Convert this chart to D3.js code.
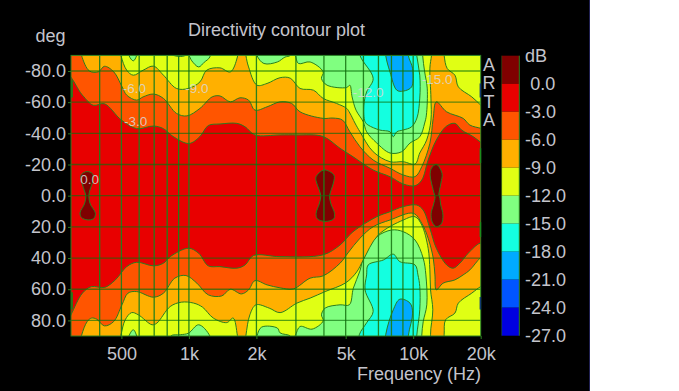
<!DOCTYPE html>
<html><head><meta charset="utf-8">
<script src="https://cdn.jsdelivr.net/npm/d3@7/dist/d3.min.js"></script>
<style>html,body{margin:0;padding:0;background:#fff;overflow:hidden}svg{display:block}
text{font-family:"Liberation Sans",Arial,sans-serif;fill:#c4c4cc}</style></head><body>
<script>
// frequency in Hz, angle in degrees
const contourM18Top=[[285,-110],[7350,-110],[7540,-90],[7880,-79.4],[8450,-67.7],[9030,-67.1],[9840,-69.8],[9940,-81.6],[9510,-90],[9400,-110],[21000,-110]];
const contourM18Bot=[[21000,110],[9400,110],[9510,90],[9940,75.3],[9680,68.9],[8720,66.4],[8150,73.2],[7540,89.2],[7350,110],[285,110]];
const contourM15Top=[[285,-110],[5700,-100],[5790,-90],[6630,-75.2],[6200,-66.6],[6030,-58.1],[6100,-47.4],[6300,-45.3],[7100,-42.1],[7880,-41],[8150,-37.8],[8450,-41],[9000,-42.1],[9840,-44.2],[10390,-49.8],[10700,-62.6],[10700,-77.3],[10370,-90],[10300,-100],[21000,-100]];
const contourM15Bot=[[21000,110],[10300,100],[10370,90],[10700,73.2],[10700,58.3],[10500,50.8],[10190,44.4],[8720,42.3],[8150,37.5],[7370,41.2],[6300,44.4],[6200,50.8],[6100,60.4],[6630,74.3],[6200,81.5],[5750,89.2],[5650,100],[285,110]];
const contourM12Top=[[285,-110],[520,-105],[540,-90],[565,-86.5],[585,-90],[600,-100],[800,-100],[830,-91],[920,-89.3],[995,-90],[1030,-86.5],[1105,-82.6],[1170,-85.6],[1240,-89],[1270,-100],[1950,-100],[2010,-90],[2160,-84.8],[2480,-85.8],[2680,-88.9],[2830,-90],[2870,-95],[2980,-90],[3080,-84.8],[3470,-85.8],[3970,-79.4],[3900,-75.2],[4130,-70.9],[5050,-69.4],[5220,-70.9],[5340,-63.4],[5560,-54.9],[5990,-47.4],[6200,-41],[6880,-33.8],[7880,-27.4],[8880,-28.2],[9680,-33.8],[10700,-37.8],[11250,-46.6],[11450,-51.7],[11550,-69],[11250,-79.4],[11020,-90],[10950,-100],[21000,-100]];
const contourM12Bot=[[21000,100],[10900,100],[10920,89.7],[11080,80.9],[11500,70],[11390,50.8],[11080,40.1],[10190,28.4],[9030,23.1],[8020,22],[6880,26.3],[6100,35.9],[5790,48.2],[5410,59.3],[5190,70],[4720,70],[4050,72.1],[3900,76.4],[3970,80.3],[3540,85.6],[3130,83.9],[2980,89.7],[2870,93],[2830,90],[2550,88],[2480,84.9],[2110,84.3],[2010,90],[1950,100],[1270,100],[1240,90],[1105,82.8],[995,88.2],[915,89.2],[830,90],[800,100],[600,100],[585,90],[565,86],[540,90],[520,100],[285,100]];
const contourM9Top=[[285,-110],[470,-105],[497,-90],[528,-80.5],[565,-77.3],[625,-80.5],[695,-83.1],[770,-77.3],[880,-68.8],[995,-68.8],[1120,-73],[1200,-80.5],[1375,-82],[1530,-79.4],[1645,-89],[1675,-100],[1760,-100],[1795,-90],[1845,-82.6],[2010,-70.9],[2230,-72],[2550,-75.7],[2830,-75.4],[3130,-68.8],[3590,-67.7],[3970,-62.4],[4550,-59.2],[5050,-56],[5220,-53],[5500,-46.6],[5790,-41],[6630,-28.2],[7880,-21.8],[9030,-21.8],[10190,-20.3],[10700,-27.4],[11480,-35.7],[12000,-48.5],[12000,-62.6],[11870,-81.8],[12070,-90],[12250,-100],[13570,-100],[13740,-90],[14180,-81.6],[15350,-77.3],[15900,-69.8],[18250,-63.4],[20000,-58.1],[21000,-55]];
const contourM9Bot=[[21000,57],[20000,58.3],[18250,62.5],[15900,68.9],[15350,75.3],[13950,79.6],[13740,89.2],[13570,100],[12250,100],[11950,89.2],[12230,73.2],[11950,60.4],[11870,47.6],[11660,33.7],[10920,18.8],[10190,13.5],[9030,15.6],[6990,25.2],[5990,41.2],[5600,48.9],[5000,55.9],[4050,61.5],[3470,65.7],[3030,68.9],[2550,75],[2280,72.1],[1990,70],[1870,76.4],[1795,89.7],[1760,100],[1675,100],[1645,89.7],[1575,78.5],[1475,81.4],[1285,78.5],[1150,71.5],[1050,68.9],[925,68.3],[825,71.1],[720,81.7],[685,82.8],[595,76.4],[555,75],[520,79.6],[497,89.7],[470,105],[285,110]];
const contourM6Top=[[285,-100],[325,-98],[332,-90],[360,-80],[395,-79.5],[420,-83],[462,-79.5],[503,-70],[528,-64.5],[585,-61.3],[625,-63.4],[695,-65.2],[770,-62.4],[880,-52.8],[980,-51.2],[1120,-56],[1270,-63.4],[1375,-64],[1530,-60.2],[1690,-62.8],[1845,-61.3],[1970,-54.9],[2230,-57],[2550,-60.2],[2870,-59.2],[3130,-53.8],[3970,-49.6],[4390,-49.8],[4840,-48.5],[5220,-41],[5790,-31.4],[6630,-22.9],[7880,-17.6],[9030,-13.3],[10190,-12.2],[10920,-18.6],[11870,-33.6],[12280,-49.6],[12680,-60.2],[14100,-53.8],[16700,-49.6],[17900,-45.3],[20000,-43.2],[21000,-42]];
const contourM6Bot=[[21000,38],[19900,40],[17900,47.6],[16700,50.8],[15350,54],[13600,56.1],[12680,60.4],[12500,50.8],[12280,39.9],[11660,27.3],[10920,17.7],[10020,11.3],[7880,15.6],[6630,19.9],[5790,27.3],[5120,36.7],[4720,43.3],[3970,51.4],[3470,52.9],[2920,59.8],[2550,59.1],[2230,57.2],[1970,54.5],[1845,60.4],[1715,63],[1530,60],[1400,64.3],[1220,63.6],[1085,56.1],[970,51.2],[865,52.9],[770,62.5],[695,65.1],[585,61.5],[535,62.5],[503,70],[462,80.7],[420,83.5],[388,79.2],[368,78.5],[352,80.7],[332,89.7],[325,98],[285,100]];
const contourM3Top=[[285,-78],[335,-64.5],[375,-58],[420,-59],[500,-48.5],[585,-43],[695,-44.7],[770,-43],[850,-38],[1000,-33.5],[1120,-38],[1220,-45],[1375,-46],[1635,-46.4],[1780,-44.2],[1970,-39],[2550,-39],[3030,-39],[3960,-38],[4720,-30.4],[5390,-25],[6630,-16.5],[7880,-12.2],[9030,-7.5],[10190,-6.4],[10920,-10],[11660,-22.9],[12680,-35.7],[14100,-44.7],[15350,-46.4],[16450,-42.1],[18560,-37.8],[19850,-34.6],[21000,-32]];
const contourM3Bot=[[21000,31],[19850,30.5],[17600,36.9],[16150,43.3],[15070,46.5],[14100,44.4],[12680,33.7],[11870,20.9],[11080,9.2],[10370,6],[9030,7],[7880,10.3],[6880,13.5],[5390,23.1],[4720,31.6],[3970,37.9],[2550,39.1],[1940,38.4],[1780,44.4],[1635,46.5],[1375,45.5],[1220,45],[1105,36.9],[995,33.7],[825,39.1],[770,43.3],[695,45],[585,42.7],[528,45.5],[470,54],[420,58.9],[368,58.3],[335,62.5],[298,76.4],[285,82]];
const peakLow=[[351,-15.5],[372,-14],[373,-9.4],[362,-3.7],[358,0.2],[363,5.3],[383,11.3],[375,14.8],[352,15.5],[332,14],[327,11],[342,5.3],[347,0.2],[341,-3.7],[331,-10],[331,-13.5]];
const peakMid=[[4000,-16.5],[4430,-13.3],[4420,-8.8],[4310,-3.7],[4240,0.2],[4300,5.3],[4460,11.3],[4420,14.9],[4050,16.5],[3740,14.9],[3690,11.3],[3810,5.3],[3870,0.2],[3810,-3.7],[3700,-8.8],[3690,-12.2]];
const peakHigh=[[12680,-20.1],[13450,-14.3],[13300,-8.1],[13020,-0.4],[13120,0.8],[13280,6],[13580,12.4],[13350,18.1],[12680,19.9],[12150,16.8],[12020,11.3],[12300,6],[12520,0.8],[12450,-0.4],[12070,-8.1],[11900,-13.3],[12070,-17.7]];
const leftEdgeGreenDeg=[[-74,-63],[62,73]];
const rightEdgeBlueDeg=[[-72,-63],[65,73]];
const rightEdgeGreenDeg=[[-30.5,-21],[17,26.5]];

const bandColors=["#7f0000","#e80000","#ff5500","#ffb000","#e0ff14","#80ff80","#14ffe0","#00aaff","#0055ff","#0000e0"];
const dbLevels=[0,-3,-6,-9,-12,-15,-18,-21,-24,-27];
const degTicks=[-80,-60,-40,-20,0,20,40,60,80];
const freqTicks=[500,1000,2000,5000,10000,20000];
const freqTickLabels=["500","1k","2k","5k","10k","20k"];
const gridFreqs=[400,500,600,700,800,900,1000,2000,3000,4000,5000,6000,7000,8000,9000,10000];
const contourLabelText=["0.0","-3.0","-6.0","-9.0","-12.0","-15.0"];
const contourLabelFreq=[328,513,507,962,5375,10920];
const contourLabelDeg=[-7.5,-44.7,-66.2,-66.1,-63,-71.6];
const artaLetters=["A","R","T","A"];

const W=679,H=391,GREEN="#2a7d1e",FS=18;
const svg=d3.select("body").append("svg").attr("width",W).attr("height",H);
svg.append("rect").attr("width",589).attr("height",H).attr("fill","#000");
svg.append("line").attr("x1",589.5).attr("x2",589.5).attr("y1",0).attr("y2",H).attr("stroke","#202050");

const x=d3.scaleLog().domain([298,20000]).range([71,480.7]);
const y=d3.scaleLinear().domain([-90,90]).range([55.4,336]);
const L=71,R=480.7,T=55.4,B=336;

svg.append("clipPath").attr("id","plot").append("rect").attr("x",L).attr("y",T).attr("width",R-L).attr("height",B-T);
const plot=svg.append("g").attr("clip-path","url(#plot)");
plot.append("rect").attr("x",L).attr("y",T).attr("width",R-L).attr("height",B-T).attr("fill",bandColors[7]);

const line=d3.line().x(d=>x(d[0])).y(d=>y(d[1])).curve(d3.curveCatmullRomClosed.alpha(0.5));
const regions=[
 {pts:contourM18Top.concat(contourM18Bot),c:bandColors[6]},
 {pts:contourM15Top.concat(contourM15Bot),c:bandColors[5]},
 {pts:contourM12Top.concat(contourM12Bot),c:bandColors[4]},
 {pts:contourM9Top.concat(contourM9Bot),c:bandColors[3]},
 {pts:contourM6Top.concat(contourM6Bot),c:bandColors[2]},
 {pts:contourM3Top.concat(contourM3Bot),c:bandColors[1]},
 {pts:peakLow,c:bandColors[0]},{pts:peakMid,c:bandColors[0]},{pts:peakHigh,c:bandColors[0]}
];
plot.selectAll("path.band").data(regions).join("path").attr("class","band")
 .attr("d",d=>line(d.pts)).attr("fill",d=>d.c).attr("stroke",GREEN).attr("stroke-width",1);

// grid
plot.selectAll("line.v").data(gridFreqs).join("line").attr("class","v")
 .attr("x1",d=>x(d)).attr("x2",d=>x(d)).attr("y1",T).attr("y2",B)
 .attr("stroke","#1f7f1a").attr("stroke-opacity",.95).attr("stroke-width",1.3);
plot.selectAll("line.h").data(degTicks).join("line").attr("class","h")
 .attr("x1",L).attr("x2",R).attr("y1",d=>y(d)).attr("y2",d=>y(d))
 .attr("stroke","#0a6e0a").attr("stroke-opacity",.65).attr("stroke-width",1.3);
svg.append("rect").attr("x",L).attr("y",T).attr("width",R-L).attr("height",B-T)
 .attr("fill","none").attr("stroke",GREEN).attr("stroke-width",1);

// small marks along the plot's side edges
const edge=(list,px,color)=>svg.selectAll(null).data(list).join("line")
 .attr("x1",px).attr("x2",px).attr("y1",d=>y(d[0])).attr("y2",d=>y(d[1]))
 .attr("stroke",color).attr("stroke-width",1.6);
edge(leftEdgeGreenDeg,72,"#0c8a1c");
edge(rightEdgeBlueDeg,480.4,"#103a70");
edge(rightEdgeGreenDeg,480.4,"#1c8a1c");

// contour labels
svg.selectAll("text.cl").data(contourLabelText).join("text").attr("class","cl")
 .attr("x",(d,i)=>x(contourLabelFreq[i])).attr("y",(d,i)=>y(contourLabelDeg[i]))
 .attr("font-size",13.5).style("fill","#d8d8d8").style("fill-opacity",.85).text(d=>d);

// axes
const axL=d3.axisLeft(y).tickValues(degTicks).tickFormat(d=>d.toFixed(1)).tickSize(3).tickPadding(2);
const gL=svg.append("g").attr("transform",`translate(${L},0)`).call(axL);
const axB=d3.axisBottom(x).tickValues(freqTicks).tickFormat((d,i)=>freqTickLabels[i]).tickSize(3).tickPadding(8.5);
const gB=svg.append("g").attr("transform",`translate(0,${B})`).call(axB);
[gL,gB].forEach(g=>{g.select(".domain").remove();g.selectAll("line").attr("stroke",GREEN);
 g.selectAll("text").attr("font-size",FS);g.attr("font-family",null).attr("font-size",null)});

svg.append("text").attr("x",276.5).attr("y",36).attr("text-anchor","middle").attr("font-size",FS).text("Directivity contour plot");
svg.append("text").attr("x",35.5).attr("y",41.5).attr("font-size",FS).text("deg");
svg.append("text").attr("x",481).attr("y",379.5).attr("text-anchor","end").attr("font-size",FS).text("Frequency (Hz)");
svg.selectAll("text.arta").data(artaLetters).join("text").attr("class","arta")
 .attr("x",489).attr("text-anchor","middle").attr("y",(d,i)=>71+i*18.4).attr("font-size",FS).text(d=>d);

// legend
const ly=d3.scaleLinear().domain([-27,3]).range([335.7,55.7]);
svg.selectAll("rect.lg").data(dbLevels).join("rect").attr("class","lg")
 .attr("x",501.7).attr("width",17.6).attr("y",d=>ly(d+3)).attr("height",d=>ly(d)-ly(d+3))
 .attr("fill",(d,i)=>bandColors[i]);
svg.append("line").attr("x1",519.3).attr("x2",519.3).attr("y1",55.7).attr("y2",335.7).attr("stroke",GREEN);
svg.append("line").attr("x1",501.7).attr("x2",501.7).attr("y1",55.7).attr("y2",335.7).attr("stroke",GREEN).attr("stroke-opacity",.4);
svg.selectAll("text.lt").data(dbLevels).join("text").attr("class","lt")
 .attr("x",d=>d===0?530.3:525).attr("y",d=>ly(d)+6).attr("font-size",FS).text(d=>d.toFixed(1));
svg.append("text").attr("x",525).attr("y",62).attr("font-size",FS).text("dB");
</script></body></html>
